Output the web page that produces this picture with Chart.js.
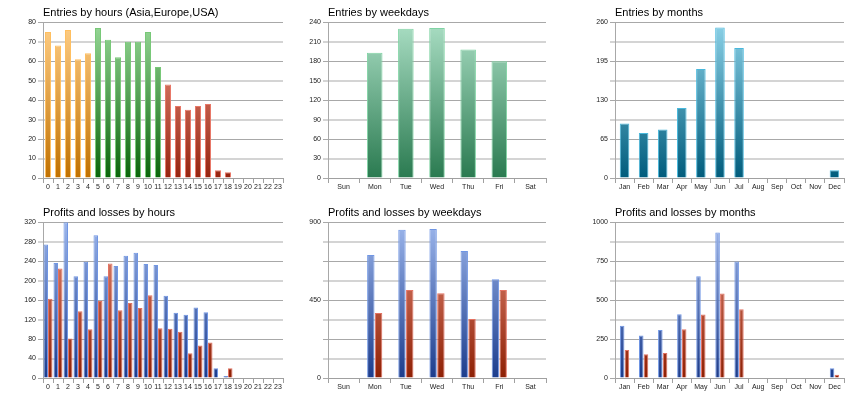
<!DOCTYPE html>
<html>
<head>
<meta charset="utf-8">
<script src="https://cdn.jsdelivr.net/npm/chart.js@4"></script>
<style>
  html, body { margin: 0; padding: 0; background: #fff; }
  body { width: 860px; height: 400px; position: relative; overflow: hidden; }
  .panel { position: absolute; height: 200px; }
</style>
</head>
<body>
<div class="panel" style="left:0;top:0;width:287px"><canvas id="entriesHours"></canvas></div>
<div class="panel" style="left:287px;top:0;width:287px"><canvas id="entriesWeekdays"></canvas></div>
<div class="panel" style="left:574px;top:0;width:286px"><canvas id="entriesMonths"></canvas></div>
<div class="panel" style="left:0;top:200px;width:287px"><canvas id="plHours"></canvas></div>
<div class="panel" style="left:287px;top:200px;width:287px"><canvas id="plWeekdays"></canvas></div>
<div class="panel" style="left:574px;top:200px;width:286px"><canvas id="plMonths"></canvas></div>
<script>
// data
const hours = ['0','1','2','3','4','5','6','7','8','9','10','11','12','13','14','15','16','17','18','19','20','21','22','23'];
const weekdays = ['Sun','Mon','Tue','Wed','Thu','Fri','Sat'];
const months = ['Jan','Feb','Mar','Apr','May','Jun','Jul','Aug','Sep','Oct','Nov','Dec'];

const entriesByHour = [75, 68, 76, 61, 64, 77, 71, 62, 70, 70, 75, 57, 48, 37, 35, 37, 38, 4, 3, 0, 0, 0, 0, 0];
// session of each hour: 0 = Asia, 1 = Europe, 2 = USA
const hourSession = [0,0,0,0,0,1,1,1,1,1,1,1,2,2,2,2,2,2,2,2,2,2,2,2];
const entriesByWeekday = [0, 193, 230, 231, 198, 180, 0];
const entriesByMonth = [91, 75, 81, 117, 182, 251, 217, 0, 0, 0, 0, 13];

const profitsByHour = [274, 236, 320, 209, 239, 293, 209, 230, 251, 257, 234, 232, 169, 134, 130, 145, 135, 20, 4, 0, 0, 0, 0, 0];
const lossesByHour = [163, 225, 81, 137, 100, 158, 235, 139, 154, 144, 170, 102, 101, 95, 51, 67, 73, 0, 20, 0, 0, 0, 0, 0];
const profitsByWeekday = [0, 711, 856, 860, 734, 570, 0];
const lossesByWeekday = [0, 376, 509, 490, 341, 509, 0];
const profitsByMonth = [336, 272, 308, 409, 653, 934, 747, 0, 0, 0, 0, 62];
const lossesByMonth = [180, 152, 161, 313, 407, 542, 441, 0, 0, 0, 0, 21];

Chart.defaults.font.family = '"Liberation Sans", Arial, sans-serif';
Chart.defaults.animation = false;

const palette = {
  orange: { top: '#ffcf88', bottom: '#c07000', line: '#ffbf60' },
  green:  { top: '#98d898', bottom: '#0a640a', line: '#78c878' },
  red:    { top: '#f29a88', bottom: '#962410', line: '#e87868' },
  mint:   { top: '#aadec4', bottom: '#2a7a50', line: '#80d4a4' },
  teal:   { top: '#8cd2e8', bottom: '#005c7c', line: '#48b8dc' },
  blue:   { top: '#9cb6ec', bottom: '#1c3c8c', line: '#7096e4' },
  rust:   { top: '#e8907e', bottom: '#8e2004', line: '#e47262' }
};

function gradient(ctx, col) {
  const area = ctx.chart.chartArea;
  if (!area) return col.bottom;
  const g = ctx.chart.ctx.createLinearGradient(0, area.top, 0, area.bottom);
  g.addColorStop(0, col.top);
  g.addColorStop(1, col.bottom);
  return g;
}

function barSet(data, col, extra) {
  return Object.assign({
    data,
    backgroundColor: ctx => gradient(ctx, typeof col === 'function' ? col(ctx.dataIndex) : col),
    borderColor: ctx => (typeof col === 'function' ? col(ctx.dataIndex) : col).line,
    borderWidth: 1,
    borderSkipped: 'bottom'
  }, extra);
}

function makeChart(id, title, labels, datasets, yMax, labelEvery, yWidth, padRight, catPct, barPct) {
  new Chart(document.getElementById(id), {
    type: 'bar',
    data: { labels, datasets },
    options: {
      responsive: true,
      maintainAspectRatio: false,
      datasets: { bar: { categoryPercentage: catPct, barPercentage: barPct } },
      layout: { padding: { top: 0, right: padRight, bottom: 0, left: 0 } },
      plugins: {
        legend: { display: false },
        tooltip: { enabled: false },
        title: {
          display: true,
          text: title,
          align: 'start',
          fullSize: false,
          color: '#000',
          font: { size: 11, weight: 'normal' },
          padding: { top: 6, bottom: 3 }
        }
      },
      scales: {
        x: {
          offset: true,
          grid: { offset: true, drawOnChartArea: false, tickLength: 5, color: '#a0a0a0' },
          border: { color: '#a0a0a0' },
          ticks: { color: '#222', font: { size: 7 }, padding: 0, maxRotation: 0, autoSkip: false },
          afterFit: s => { s.height = 22; }
        },
        y: {
          min: 0,
          max: yMax,
          grid: {
            color: c => c.index % 2 === 0 ? '#a8a8a8' : '#d4d4d4',
            lineWidth: c => c.index % 2 === 0 ? 1 : 2,
            tickColor: c => c.index % 2 === 0 ? '#a8a8a8' : '#d4d4d4',
            tickLength: 5
          },
          border: { color: '#a8a8a8' },
          ticks: {
            stepSize: yMax / 8,
            color: '#222',
            font: { size: 7 },
            padding: 2,
            callback: (v, i) => i % labelEvery === 0 ? v : ''
          },
          afterFit: s => { s.width = yWidth; }
        }
      }
    }
  });
}

const sessionColor = i => [palette.orange, palette.green, palette.red][hourSession[i]];

makeChart('entriesHours', 'Entries by hours (Asia,Europe,USA)', hours,
  [barSet(entriesByHour, sessionColor)], 80, 1, 43, 4, 1, 0.6);
makeChart('entriesWeekdays', 'Entries by weekdays', weekdays,
  [barSet(entriesByWeekday, palette.mint)], 240, 1, 41, 28, 1, 0.5);
makeChart('entriesMonths', 'Entries by months', months,
  [barSet(entriesByMonth, palette.teal)], 260, 2, 41, 16, 1, 0.5);

makeChart('plHours', 'Profits and losses by hours', hours,
  [barSet(profitsByHour, palette.blue), barSet(lossesByHour, palette.rust)], 320, 1, 43, 4, 0.9, 1);
makeChart('plWeekdays', 'Profits and losses by weekdays', weekdays,
  [barSet(profitsByWeekday, palette.blue), barSet(lossesByWeekday, palette.rust)], 900, 4, 41, 28, 0.5, 0.95);
makeChart('plMonths', 'Profits and losses by months', months,
  [barSet(profitsByMonth, palette.blue), barSet(lossesByMonth, palette.rust)], 1000, 2, 41, 16, 0.5, 0.95);
</script>
</body>
</html>
